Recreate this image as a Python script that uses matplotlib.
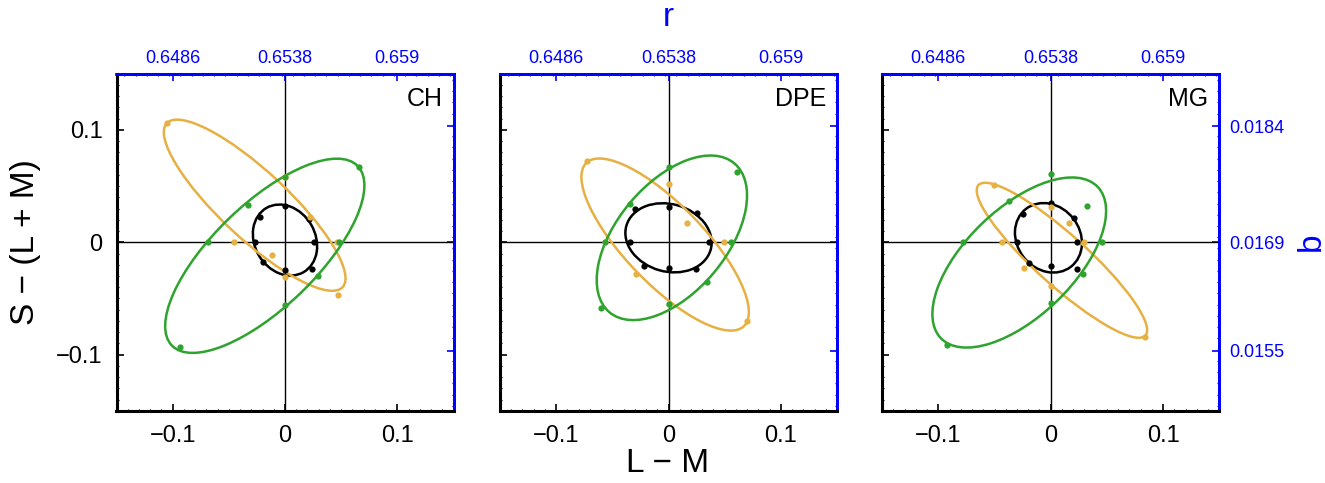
import matplotlib
matplotlib.use("Agg")
import matplotlib.pyplot as plt
from matplotlib.patches import Ellipse
from matplotlib.ticker import MultipleLocator

plt.rcParams["font.family"] = ["Liberation Sans", "DejaVu Sans"]

panels = ["CH", "DPE", "MG"]

# data points (L-M, S-(L+M)) for each panel
black_x = [[0, -0.0219, -0.0269, -0.0192, 0, 0.0243, 0.026, 0.021],
           [0, -0.0302, -0.0346, -0.0216, 0, 0.0243, 0.0358, 0.0251],
           [0, -0.0251, -0.0302, -0.0189, 0, 0.0234, 0.0234, 0.0204]]
black_y = [[0.0325, 0.0228, 0, -0.0178, -0.0246, -0.0237, 0, 0.021],
           [0.0317, 0.0296, 0, -0.0207, -0.0228, -0.024, 0, 0.0257],
           [0.0346, 0.0251, 0, -0.018, -0.021, -0.0234, 0, 0.0213]]
green_x = [[-0.0935, -0.0683, -0.0328, 0, 0.0663, 0.0479, 0.0296, 0],
           [0, -0.0346, -0.0562, -0.0598, 0, 0.0346, 0.0553, 0.0612],
           [0, -0.037, -0.0784, -0.0923, 0, 0.0287, 0.0456, 0.032]]
green_y = [[-0.0932, 0, 0.0331, 0.0583, 0.0666, 0, -0.0299, -0.0556],
           [0.0672, 0.034, 0, -0.0586, -0.055, -0.0349, 0, 0.0627],
           [0.0612, 0.037, 0, -0.0917, -0.0536, -0.0284, 0, 0.0325]]
gold_x = [[-0.1053, -0.0456, -0.0118, 0, 0.0473, 0.0462, 0.0219, 0],
          [-0.0725, 0, 0.0163, 0.0497, 0.0698, 0, -0.0293, -0.0562],
          [-0.0506, 0, 0.0166, 0.0299, 0.0843, 0, -0.0234, -0.0435]]
gold_y = [[0.1062, 0, -0.0112, -0.0311, -0.0473, 0, 0.0228, 0.058],
          [0.0725, 0.0515, 0.0175, 0, -0.0701, -0.055, -0.0284, 0],
          [0.0506, 0.0317, 0.0169, 0, -0.0843, -0.0393, -0.0228, 0]]

# fitted ellipses: center x, center y, semi-major, semi-minor, angle (deg)
black_ell = [(0.0, 0.002, 0.033, 0.027, -60),
             (0.0, 0.004, 0.039, 0.030, -16),
             (-0.002, 0.004, 0.0326, 0.028, -52)]
gold_ell = [(-0.027, 0.033, 0.107, 0.030, -43),
            (-0.003, -0.002, 0.101, 0.035, -46),
            (0.010, -0.016, 0.100, 0.0227, -42)]
green_ell = [(-0.018, -0.012, 0.115, 0.046, 44),
             (0.003, 0.004, 0.0865, 0.0486, 50),
             (-0.028, -0.018, 0.097, 0.048, 44)]

ticks = [-0.1, 0, 0.1]
tick_labels = ["\u22120.1", "0", "0.1"]
r_ticks = [0.6486, 0.6538, 0.659]
r_labels = ["0.6486", "0.6538", "0.659"]
b_ticks = [0.0155, 0.0169, 0.0184]
b_labels = ["0.0155", "0.0169", "0.0184"]

r0, rk = 0.6538, 0.052
b0, bk = 0.0169, 0.0145

green = "#2ea32e"
gold = "#e6b043"
blue = "#0000ff"

fig = plt.figure(figsize=(13.25, 4.83), dpi=100)
lefts = [116.5, 500.0, 882.2]

for i, name in enumerate(panels):
    ax = fig.add_axes([lefts[i] / 1325, 1 - 410.8 / 483, 337 / 1325, 337 / 483])
    ax.set_xlim(-0.15, 0.15)
    ax.set_ylim(-0.15, 0.15)
    ax.axhline(0, color="k", lw=1, zorder=1)
    ax.axvline(0, color="k", lw=1, zorder=1)

    for ell, xs, ys, c in [(black_ell[i], black_x[i], black_y[i], "k"),
                           (gold_ell[i], gold_x[i], gold_y[i], gold),
                           (green_ell[i], green_x[i], green_y[i], green)]:
        cx, cy, a, b, ang = ell
        ax.add_patch(Ellipse((cx, cy), 2 * a, 2 * b, angle=ang, fill=False,
                             ec=c, lw=1.8, zorder=2))
        ax.plot(xs, ys, "o", color=c, ms=4.5, mew=0, zorder=3)

    ax.set_xticks(ticks, tick_labels)
    ax.set_yticks(ticks, tick_labels if i == 0 else [])
    ax.xaxis.set_minor_locator(MultipleLocator(0.01))
    ax.yaxis.set_minor_locator(MultipleLocator(0.01))
    ax.tick_params(which="both", direction="in", top=False, right=False,
                   labelsize=17, pad=10)
    ax.tick_params(which="major", length=5, width=1.2)
    ax.tick_params(which="minor", length=1.6, width=0.9)
    for s in ["left", "bottom"]:
        ax.spines[s].set_linewidth(2.2)
    for s in ["top", "right"]:
        ax.spines[s].set_color(blue)
        ax.spines[s].set_linewidth(2)

    sx = ax.secondary_xaxis("top", functions=(lambda x: r0 + rk * x,
                                              lambda r: (r - r0) / rk))
    sx.set_xticks(r_ticks, r_labels)
    sx.xaxis.set_minor_locator(MultipleLocator(rk * 0.01))
    sx.tick_params(which="both", direction="in", colors=blue, labelsize=13, pad=5)
    sx.tick_params(which="major", length=5, width=1.2)
    sx.tick_params(which="minor", length=1.6, width=0.9)
    sx.spines["top"].set_color(blue)
    sx.spines["top"].set_linewidth(2)

    sy = ax.secondary_yaxis("right", functions=(lambda y: b0 + bk * y,
                                                lambda v: (v - b0) / bk))
    sy.set_yticks(b_ticks, b_labels if i == 2 else [])
    sy.yaxis.set_minor_locator(MultipleLocator(bk * 0.01))
    sy.tick_params(which="both", direction="in", colors=blue, labelsize=13, pad=7)
    sy.tick_params(which="major", length=5, width=1.2)
    sy.tick_params(which="minor", length=1.6, width=0.9)
    sy.spines["right"].set_color(blue)
    sy.spines["right"].set_linewidth(2)

    ax.text(0.14, 0.138, name, ha="right", va="top", fontsize=18)

fig.text(668 / 1325, 1 - 18 / 483, "r", color=blue, fontsize=24, ha="center", va="center")
fig.text(668 / 1325, 1 - 463 / 483, "L \u2212 M", fontsize=24, ha="center", va="center")
fig.text(26 / 1325, 1 - 242 / 483, "S \u2212 (L + M)", fontsize=24, rotation=90,
         ha="center", va="center")
fig.text(1311 / 1325, 1 - 242 / 483, "b", color=blue, fontsize=24, rotation=90,
         ha="center", va="center")

fig.savefig("out.png", dpi=100)
